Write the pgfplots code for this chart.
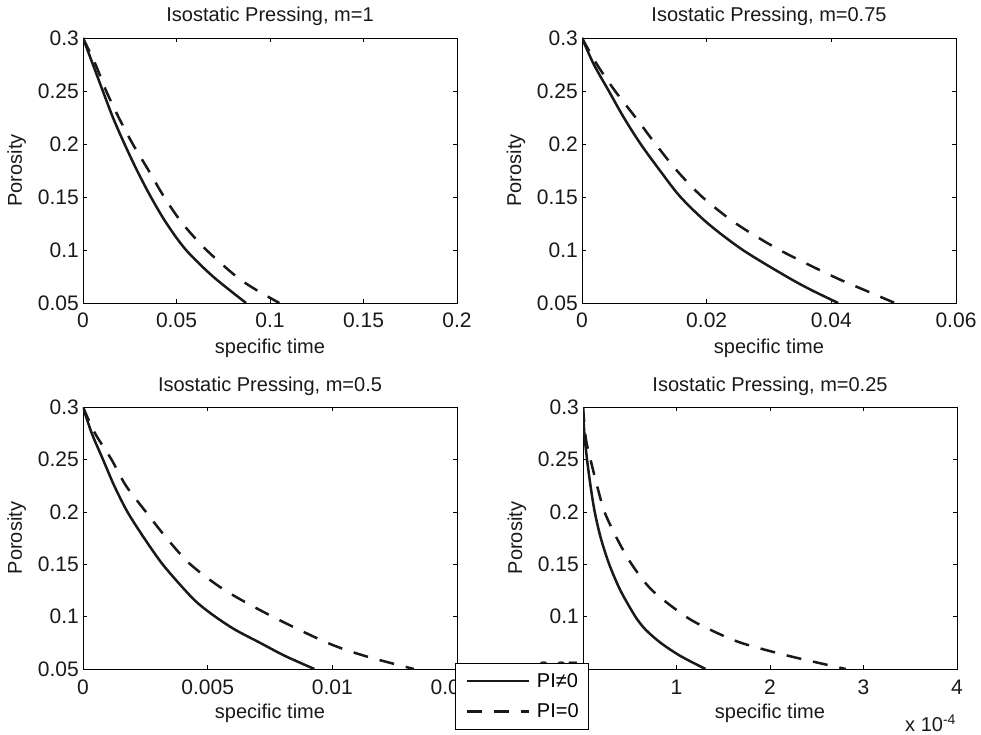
\documentclass[border=0pt]{standalone}
\usepackage{fontspec}
\setmainfont{Liberation Sans}
\usepackage{pgfplots}
\pgfplotsset{compat=1.18}

\pgfplotsset{
  mat/.style={
    scale only axis, width=374pt, anchor=south west,
    clip mode=individual, scaled ticks=false,
    ymin=0.05, ymax=0.3,
    ytick={0.05,0.1,0.15,0.2,0.25,0.3},
    yticklabels={0.05,0.1,0.15,0.2,0.25,0.3},
    tick align=inside, major tick length=4pt,
    tick style={black, line width=0.6pt},
    axis line style={line width=0.8pt},
    tick label style={font=\fontsize{21}{24}\selectfont, text=black!90},
    xticklabel style={anchor=base, inner sep=0pt, yshift=-25pt},
    yticklabel style={anchor=east, inner sep=0pt, xshift=-4pt},
    label style={font=\fontsize{20}{24}\selectfont, text=black!90},
    title style={font=\fontsize{20}{24}\selectfont, text=black!90,
      at={(axis description cs:0.5,1.0717)}, anchor=base, yshift=-9pt},
    xlabel style={at={(axis description cs:0.5,-0.1887)}, anchor=base},
    ylabel style={at={(axis description cs:-0.1631,0.5)}, anchor=base},
    xlabel={specific time}, ylabel={Porosity},
  },
  pi/.style={line width=2.5pt, black!90, smooth},
  pz/.style={line width=2.5pt, black!90, smooth, dash pattern=on 15pt off 12pt},
}

\begin{document}
\begin{tikzpicture}
\useasboundingbox (0,0) rectangle (981pt,734pt);

% m = 1
\begin{axis}[mat, at={(83pt,431pt)}, height=265pt,
  title={Isostatic Pressing, m=1},
  xmin=0, xmax=0.2, xtick={0,0.05,0.1,0.15,0.2},
  xticklabels={0,0.05,0.1,0.15,0.2}]
\addplot[pi] coordinates {
  (0,0.3) (0.0053,0.275) (0.0106,0.25) (0.016,0.225) (0.0222,0.2)
  (0.0289,0.175) (0.0363,0.15) (0.0447,0.125) (0.0551,0.1) (0.0695,0.075) (0.0872,0.05)};
\addplot[pz] coordinates {
  (0,0.3) (0.0067,0.275) (0.0124,0.25) (0.0191,0.225) (0.0266,0.2)
  (0.0351,0.175) (0.0434,0.15) (0.0532,0.125) (0.066,0.1) (0.082,0.075)
  (0.0925,0.0625) (0.105,0.05)};
\end{axis}

% m = 0.75
\begin{axis}[mat, at={(582pt,431pt)}, height=265pt,
  title={Isostatic Pressing, m=0.75},
  xmin=0, xmax=0.06, xtick={0,0.02,0.04,0.06},
  xticklabels={0,0.02,0.04,0.06}]
\addplot[pi] coordinates {
  (0,0.3) (0.0019,0.275) (0.0043,0.25) (0.0067,0.225) (0.0094,0.2)
  (0.0125,0.175) (0.0158,0.15) (0.0202,0.125) (0.0258,0.1) (0.0328,0.075)
  (0.0367,0.0625) (0.0411,0.05)};
\addplot[pz] coordinates {
  (0,0.3) (0.0024,0.275) (0.0053,0.25) (0.0086,0.225) (0.0118,0.2)
  (0.0152,0.175) (0.0193,0.15) (0.0247,0.125) (0.0317,0.1) (0.0403,0.075)
  (0.0452,0.0625) (0.0502,0.05)};
\end{axis}

% m = 0.5
\begin{axis}[mat, at={(83pt,65pt)}, height=262pt,
  title={Isostatic Pressing, m=0.5},
  xmin=0, xmax=0.015, xtick={0,0.005,0.01,0.015},
  xticklabels={0,0.005,0.01,0.015}]
\addplot[pi] coordinates {
  (0,0.3) (0.00035,0.275) (0.0008,0.25) (0.00125,0.225) (0.00178,0.2)
  (0.00245,0.175) (0.00319,0.15) (0.0041,0.125) (0.00462,0.1125) (0.0053,0.1)
  (0.0061,0.0875) (0.0071,0.075) (0.0081,0.0625) (0.00928,0.05)};
\addplot[pz] coordinates {
  (0,0.3) (0.00048,0.275) (0.00114,0.25) (0.00172,0.225) (0.00252,0.2)
  (0.00335,0.175) (0.0043,0.15) (0.0057,0.125) (0.0076,0.1) (0.0098,0.075)
  (0.0113,0.0625) (0.01327,0.05)};
\end{axis}

% m = 0.25 (x in units of 1e-4)
\begin{axis}[mat, at={(583pt,65pt)}, height=262pt,
  title={Isostatic Pressing, m=0.25},
  xmin=0, xmax=4, xtick={0,1,2,3,4},
  xticklabels={0,1,2,3,4},
  legend style={at={(axis description cs:-0.3422,0.0229)}, anchor=north west,
    draw=black, line width=0.8pt, fill=white,
    font=\fontsize{20}{24}\selectfont, inner xsep=10pt, inner ysep=10pt,
    row sep=15pt, nodes={inner sep=0pt},
    /tikz/every odd column/.append style={column sep=7pt}},
  legend cell align=left,
  legend image code/.code={\draw[#1] (0pt,0pt) -- (62pt,0pt);}]
\addplot[pi] coordinates {
  (0,0.3) (0.014,0.275) (0.043,0.25) (0.08,0.225) (0.125,0.2) (0.19,0.175)
  (0.28,0.15) (0.4,0.125) (0.56,0.1) (0.67,0.0875) (0.83,0.075) (1.04,0.0625) (1.31,0.05)};
\addlegendentry{PI≠0}
\addplot[pz] coordinates {
  (0,0.3) (0.03,0.27) (0.08,0.25) (0.15,0.225) (0.23,0.2) (0.36,0.175)
  (0.52,0.15) (0.74,0.125) (1.1,0.1) (1.36,0.0875) (1.69,0.075) (2.2,0.0625) (2.81,0.05)};
\addlegendentry{PI=0}
\node[anchor=base west, font=\fontsize{20}{24}\selectfont, text=black!90, inner sep=0pt]
  at (axis description cs:0.861,-0.2395) {x 10\textsuperscript{-4}};
\end{axis}
\end{tikzpicture}
\end{document}
